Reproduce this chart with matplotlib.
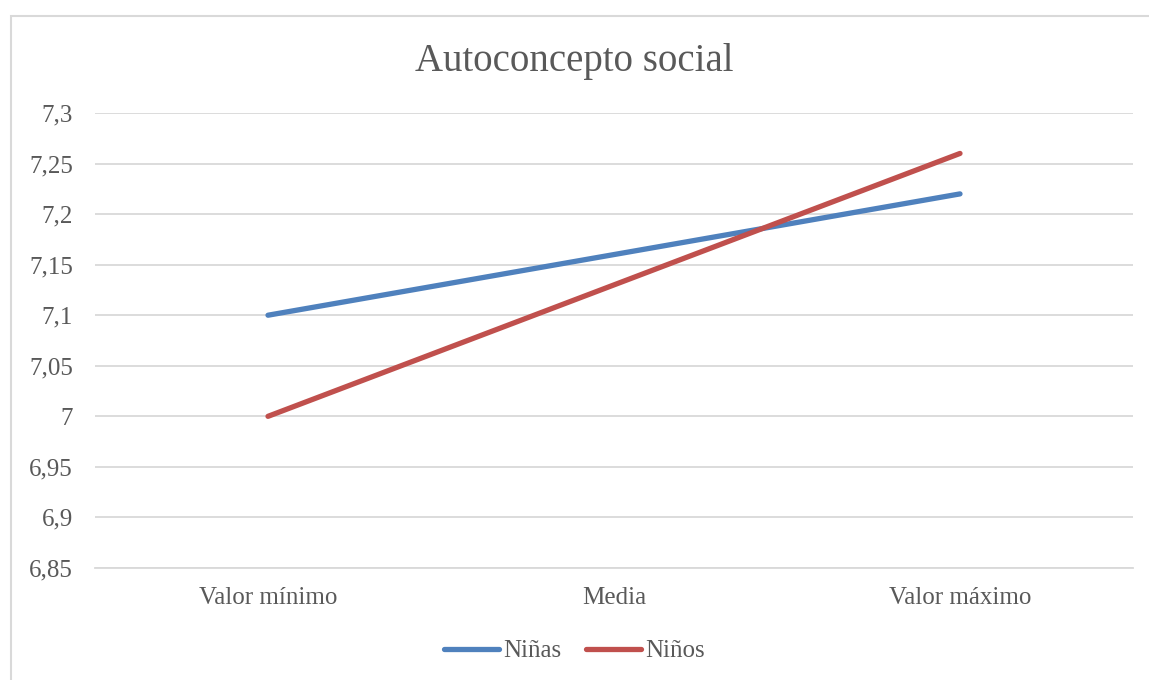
import matplotlib.pyplot as plt
from matplotlib.patches import Rectangle
from matplotlib.ticker import FuncFormatter, MultipleLocator

# Data
categories = ["Valor mínimo", "Media", "Valor máximo"]
ninas = [7.10, 7.16, 7.22]
ninos = [7.00, 7.13, 7.26]

plt.rcParams['font.family'] = ['Liberation Serif', 'DejaVu Serif']
text_color = "#595959"
grid_color = "#d9d9d9"

fig = plt.figure(figsize=(11.49, 6.8), dpi=100)
ax = fig.add_axes([95 / 1149, 1 - 568 / 680, (1133 - 95) / 1149, (568 - 113) / 680])

# Chart border (runs off the bottom and right edges)
fig.patches.append(Rectangle((11 / 1149, -0.1), 1.2, 1.1 - 16 / 680, transform=fig.transFigure,
                             fill=False, edgecolor=grid_color, linewidth=1.5))

x = range(len(categories))
ax.plot(x, ninas, color="#4f81bd", linewidth=3.8, solid_capstyle="round", label="Niñas")
ax.plot(x, ninos, color="#c0504d", linewidth=3.8, solid_capstyle="round", label="Niños")

ax.set_xlim(-0.5, len(categories) - 0.5)
ax.set_ylim(6.85, 7.3)
ax.yaxis.set_major_locator(MultipleLocator(0.05))
ax.yaxis.set_major_formatter(FuncFormatter(lambda v, p: f"{v:.2f}".rstrip("0").rstrip(".").replace(".", ",")))
ax.set_xticks(list(x))
ax.set_xticklabels(categories)

ax.grid(axis="y", color=grid_color, linewidth=1.3)
ax.set_axisbelow(True)
for side in ["top", "right", "left"]:
    ax.spines[side].set_visible(False)
ax.spines["bottom"].set_color(grid_color)
ax.spines["bottom"].set_linewidth(1.3)
ax.tick_params(axis="both", length=0, labelsize=18, labelcolor=text_color)
ax.tick_params(axis="y", pad=16)
ax.tick_params(axis="x", pad=14)

fig.text(0.5, 1 - 61 / 680, "Autoconcepto social", ha="center", va="center",
         fontsize=28, color=text_color)

fig.legend(loc="center", bbox_to_anchor=(0.5, 1 - 651 / 680), ncol=2, frameon=False,
           fontsize=18, labelcolor=text_color, handlelength=2.2, handletextpad=0.15,
           columnspacing=1.0)

fig.savefig("out.png", dpi=100)
